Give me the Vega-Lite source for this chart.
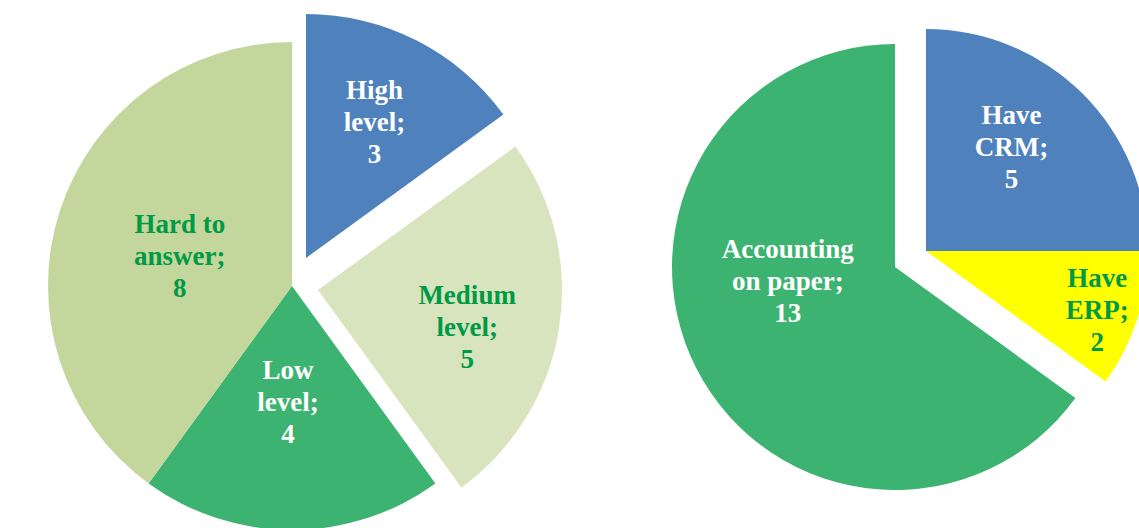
{
  "$schema": "https://vega.github.io/schema/vega-lite/v6.json",
  "padding": 0,
  "spacing": 67,
  "background": "white",
  "config": {"view": {"stroke": null}, "text": {"font": "Liberation Serif", "fontWeight": "bold", "fontSize": 27, "lineHeight": 32, "lineBreak": "\n", "align": "center", "baseline": "middle"}},
  "resolve": {"scale": {"color": "independent", "theta": "independent"}},
  "hconcat": [
    {
      "width": 584,
      "height": 528,
      "data": {"values": [
        {"cat": "High level", "value": 3, "k": 1, "label": "High\nlevel;\n3"},
        {"cat": "Medium level", "value": 5, "k": 2, "label": "Medium\nlevel;\n5"},
        {"cat": "Low level", "value": 4, "k": 3, "label": "Low\nlevel;\n4"},
        {"cat": "Hard to answer", "value": 8, "k": 4, "label": "Hard to\nanswer;\n8"}
      ]},
      "encoding": {
        "theta": {"field": "value", "type": "quantitative", "stack": true},
        "order": {"field": "k", "type": "quantitative"}
      },
      "layer": [
        {
          "encoding": {"opacity": {"condition": {"test": "datum.cat === 'High level'", "value": 1}, "value": 0}},
          "layer": [
            {"mark": {"type": "arc", "outerRadius": 244, "xOffset": 14, "yOffset": -6, "clip": true},
             "encoding": {"color": {"field": "cat", "type": "nominal", "legend": null,
               "scale": {"domain": ["High level", "Medium level", "Low level", "Hard to answer"], "range": ["#4F81BD", "#D7E4BD", "#3CB371", "#C3D69B"]}}}},
            {"mark": {"type": "text", "radius": 151, "xOffset": 14, "yOffset": -38, "clip": true, "color": "white"},
             "encoding": {"text": {"field": "label", "type": "nominal"}}}
          ]
        },
        {
          "encoding": {"opacity": {"condition": {"test": "datum.cat === 'Medium level'", "value": 1}, "value": 0}},
          "layer": [
            {"mark": {"type": "arc", "outerRadius": 244, "xOffset": 26, "yOffset": 26, "clip": true},
             "encoding": {"color": {"field": "cat", "type": "nominal", "legend": null}}},
            {"mark": {"type": "text", "radius": 151, "xOffset": 26, "yOffset": 8, "clip": true, "color": "#009A46"},
             "encoding": {"text": {"field": "label", "type": "nominal"}}}
          ]
        },
        {
          "encoding": {"opacity": {"condition": {"test": "datum.cat === 'Low level'", "value": 1}, "value": 0}},
          "layer": [
            {"mark": {"type": "arc", "outerRadius": 244, "yOffset": 22, "clip": true},
             "encoding": {"color": {"field": "cat", "type": "nominal", "legend": null}}},
            {"mark": {"type": "text", "radius": 117, "xOffset": -4, "yOffset": -10, "clip": true, "color": "white"},
             "encoding": {"text": {"field": "label", "type": "nominal"}}}
          ]
        },
        {
          "encoding": {"opacity": {"condition": {"test": "datum.cat === 'Hard to answer'", "value": 1}, "value": 0}},
          "layer": [
            {"mark": {"type": "arc", "outerRadius": 244, "yOffset": 22, "clip": true},
             "encoding": {"color": {"field": "cat", "type": "nominal", "legend": null}}},
            {"mark": {"type": "text", "radius": 118, "yOffset": -3, "clip": true, "color": "#009A46"},
             "encoding": {"text": {"field": "label", "type": "nominal"}}}
          ]
        }
      ]
    },
    {
      "width": 488,
      "height": 528,
      "data": {"values": [
        {"cat": "Have CRM", "value": 5, "k": 1, "label": "Have\nCRM;\n5"},
        {"cat": "Have ERP", "value": 2, "k": 2, "label": "Have\nERP;\n2"},
        {"cat": "Accounting on paper", "value": 13, "k": 3, "label": "Accounting\non paper;\n13"}
      ]},
      "encoding": {
        "theta": {"field": "value", "type": "quantitative", "stack": true},
        "order": {"field": "k", "type": "quantitative"}
      },
      "layer": [
        {
          "encoding": {"opacity": {"condition": {"test": "datum.cat === 'Have CRM'", "value": 1}, "value": 0}},
          "layer": [
            {"mark": {"type": "arc", "outerRadius": 222, "xOffset": 31, "yOffset": -13, "clip": true},
             "encoding": {"color": {"field": "cat", "type": "nominal", "legend": null,
               "scale": {"domain": ["Have CRM", "Have ERP", "Accounting on paper"], "range": ["#4F81BD", "#FFFF00", "#3CB371"]}}}},
            {"mark": {"type": "text", "radius": 135, "xOffset": 21, "yOffset": -53, "clip": true, "color": "white"},
             "encoding": {"text": {"field": "label", "type": "nominal"}}}
          ]
        },
        {
          "encoding": {"opacity": {"condition": {"test": "datum.cat === 'Have ERP'", "value": 1}, "value": 0}},
          "layer": [
            {"mark": {"type": "arc", "outerRadius": 222, "xOffset": 31, "yOffset": -13, "clip": true},
             "encoding": {"color": {"field": "cat", "type": "nominal", "legend": null}}},
            {"mark": {"type": "text", "radius": 180, "xOffset": 31, "yOffset": -41, "clip": true, "color": "#009A46"},
             "encoding": {"text": {"field": "label", "type": "nominal"}}}
          ]
        },
        {
          "encoding": {"opacity": {"condition": {"test": "datum.cat === 'Accounting on paper'", "value": 1}, "value": 0}},
          "layer": [
            {"mark": {"type": "arc", "outerRadius": 223, "yOffset": 3, "clip": true},
             "encoding": {"color": {"field": "cat", "type": "nominal", "legend": null}}},
            {"mark": {"type": "text", "radius": 108, "xOffset": -11, "yOffset": -63, "clip": true, "color": "white"},
             "encoding": {"text": {"field": "label", "type": "nominal"}}}
          ]
        }
      ]
    }
  ]
}
